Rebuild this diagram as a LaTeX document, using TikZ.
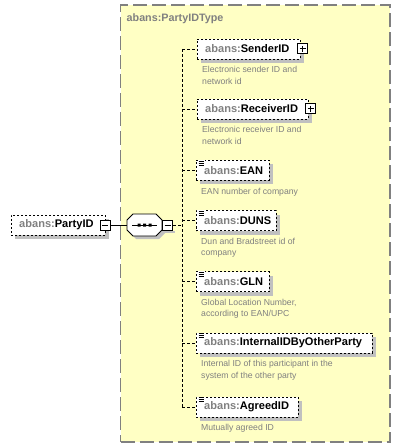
\documentclass[tikz,border=0pt]{standalone}
\usepackage{fontspec}
\setmainfont{Liberation Sans}
\usetikzlibrary{shadows}
\definecolor{ybg}{HTML}{FFFFC4}
\definecolor{tgray}{HTML}{808080}
\definecolor{shgray}{HTML}{C0C0C0}
\newcommand{\nm}[1]{{\color{tgray}abans:}#1}
\begin{document}
\begin{tikzpicture}[x=1bp,y=-1bp,
  container/.style={draw=tgray, fill=ybg, line width=1.2bp, dash pattern=on 14bp off 5bp, inner sep=0},
  elem/.style={draw, dash pattern=on 2bp off 2bp, fill=white, minimum height=20bp, inner xsep=8bp, inner ysep=0bp, anchor=west, align=left,
    font=\bfseries\fontsize{11.1}{12}\selectfont,
    drop shadow={shadow xshift=4bp, shadow yshift=-4bp, fill=shgray, opacity=1}},
  desc/.style={anchor=north west, align=left, inner sep=0, text=tgray, font=\fontsize{8.7}{11.8}\selectfont},
  iconbox/.style={draw, solid, fill=white, minimum size=10bp, inner sep=0, line width=1bp},
  plusicon/.style={iconbox, path picture={\draw[line width=1bp] ([xshift=2bp]path picture bounding box.west) -- ([xshift=-2bp]path picture bounding box.east) ([yshift=-2bp]path picture bounding box.north) -- ([yshift=2bp]path picture bounding box.south);}},
  minusicon/.style={iconbox, path picture={\draw[line width=1bp] ([xshift=2bp]path picture bounding box.west) -- ([xshift=-2bp]path picture bounding box.east);}},
  conn/.style={dash pattern=on 3bp off 2bp, line width=0.8bp},
  docicon/.pic={\fill[white] (0,-1) rectangle (7,5); \draw[line width=0.7bp] (1,0)--(6,0) (1,2)--(6,2) (1,4)--(6,4);}
]
\useasboundingbox (0,0) rectangle (400,448);
% container
\node[container, minimum width=269.5bp, minimum height=437bp] (ct) at (255.25,223.5) {};
\node[anchor=west, inner sep=0, text=tgray, font=\bfseries\fontsize{10.8}{12}\selectfont] (title) at (126.5,18.5) {abans:PartyIDType};

% root element
\node[elem, text width=78bp] (pid) at (11,225) {\nm{PartyID}};
\node[minusicon] (pidm) at (pid.east) {};

% sequence compositor
\node[inner sep=0, minimum width=35bp, minimum height=22bp] (seq) at (144.5,225) {};
\fill[shgray, shift={(3,3)}] (127,220) -- (133,214) -- (156,214) -- (162,220) -- (162,230) -- (156,236) -- (133,236) -- (127,230) -- cycle;
\draw[fill=white, line width=0.8bp] (127,220) -- (133,214) -- (156,214) -- (162,220) -- (162,230) -- (156,236) -- (133,236) -- (127,230) -- cycle;
\draw[line width=0.8bp] (132,225) -- (157,225);
\fill (137.5,223.5) rectangle ++(3,3) (143,223.5) rectangle ++(3,3) (148.5,223.5) rectangle ++(3,3);
\node[minusicon] (seqm) at (167.5,225) {};
\fill[shgray] (164,230.5) rectangle (175,233);

\draw[line width=0.8bp] (pidm.east) -- (seq.west);

% children
\node[elem, text width=87bp] (s) at (197,49) {\nm{SenderID}};
\node[plusicon] (sp) at ([xshift=2.5bp]s.east) {};
\node[desc] (sd) at ([xshift=5bp,yshift=-7bp]s.south west) {Electronic sender ID and\\network id};

\node[elem, text width=95bp] (r) at (197,109) {\nm{ReceiverID}};
\node[plusicon] (rp) at ([xshift=2.5bp]r.east) {};
\node[desc] (rd) at ([xshift=5bp,yshift=-7bp]r.south west) {Electronic receiver ID and\\network id};

\node[elem, text width=57bp] (ean) at (196,170.5) {\nm{EAN}};
\pic at ([xshift=1.5bp,yshift=-1bp]ean.north west) {docicon};
\node[desc] (eand) at ([xshift=5bp,yshift=-7bp]ean.south west) {EAN number of company};

\node[elem, text width=64bp] (duns) at (196,220.5) {\nm{DUNS}};
\pic at ([xshift=1.5bp,yshift=-1bp]duns.north west) {docicon};
\node[desc] (dunsd) at ([xshift=5bp,yshift=-7bp]duns.south west) {Dun and Bradstreet id of\\company};

\node[elem, text width=57bp] (gln) at (196,281.5) {\nm{GLN}};
\pic at ([xshift=1.5bp,yshift=-1bp]gln.north west) {docicon};
\node[desc] (glnd) at ([xshift=5bp,yshift=-7bp]gln.south west) {Global Location Number,\\according to EAN/UPC};

\node[elem, text width=160bp] (int) at (196,343) {\nm{InternalIDByOtherParty}};
\pic at ([xshift=1.5bp,yshift=-1bp]int.north west) {docicon};
\node[desc] (intd) at ([xshift=5bp,yshift=-7bp]int.south west) {Internal ID of this participant in the\\system of the other party};

\node[elem, text width=86bp] (agr) at (196,407) {\nm{AgreedID}};
\pic at ([xshift=1.5bp,yshift=-1bp]agr.north west) {docicon};
\node[desc] (agrd) at ([xshift=5bp,yshift=-7bp]agr.south west) {Mutually agreed ID};

% connectors
\coordinate (vtop) at (182,49);
\coordinate (vbot) at (182,407);
\draw[conn] (vtop) -- (vbot);
\draw[conn] (seqm.east) -- (seqm.east -| vtop);
\foreach \e in {s,r,ean,duns,gln,int,agr}{
  \draw[conn] (\e.west -| vtop) -- (\e.west);
}
\end{tikzpicture}
\end{document}
